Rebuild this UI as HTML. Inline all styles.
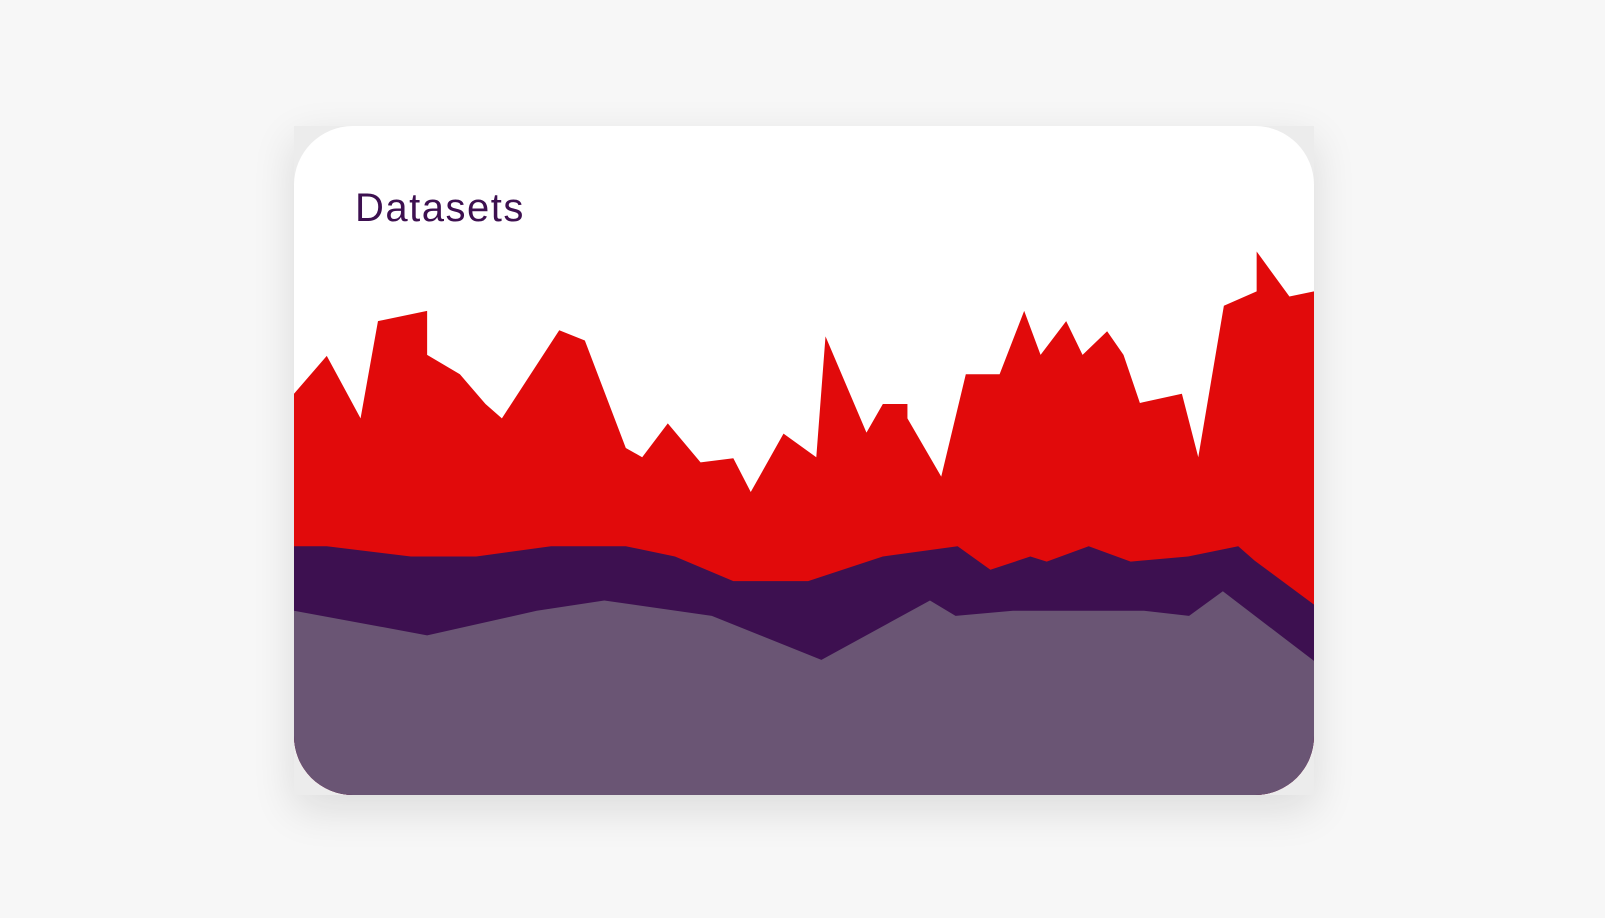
<!DOCTYPE html>
<html><head><meta charset="utf-8">
<style>
html,body{margin:0;padding:0;background:#f7f7f7;width:1605px;height:918px;overflow:hidden}
svg{display:block}
</style></head>
<body>
<svg id="chart" width="1605" height="918" viewBox="0 0 1605 918" xmlns="http://www.w3.org/2000/svg">
<defs>
<filter id="sh" x="-20%" y="-20%" width="140%" height="150%">
<feGaussianBlur in="SourceAlpha" stdDeviation="22"/>
<feOffset dy="14"/>
<feComponentTransfer><feFuncA type="linear" slope="0.12"/></feComponentTransfer>
<feMerge><feMergeNode/><feMergeNode in="SourceGraphic"/></feMerge>
</filter>
<clipPath id="cardclip"><rect x="294" y="126" width="1020" height="669" rx="59"/></clipPath>
</defs>
<rect x="294" y="126" width="1020" height="669" fill="#ececec" filter="url(#sh)"/>
<rect x="294" y="126" width="1020" height="669" rx="59" fill="#ffffff"/>
<g id="areas" clip-path="url(#cardclip)"></g>
<text x="355" y="221" font-family="Liberation Sans, sans-serif" font-size="40" letter-spacing="1.5" fill="#3d1050">Datasets</text>
</svg>
<script>
// x positions (time units 0..996), values (height units)
const redX = [0,32,65,82,130,130,162,187,203,259,284,300,324,340,365,397,429,446,478,510,519,559,575,599,599,632,656,689,713,729,754,770,794,810,826,867,883,908,940,940,972,996];
const redV = [392,429,368,463,473,430,411,382,368,454,444,402,339,330,363,325,329,296,353,330,448,354,382,382,368,311,411,411,473,430,463,430,453,430,383,392,330,478,492,531,487,492];
const purpleX = [0,32,114,178,251,324,372,429,502,575,648,680,719,735,776,817,873,922,938,996];
const purpleV = [243,243,233,233,243,243,233,209,209,233,243,220,233,228,243,228,233,243,229,186];
const grayX = [0,130,237,303,408,515,621,646,702,830,874,907,996];
const grayV = [180,156,180,190,175,132,190,175,180,180,175,199,131];

const X0 = 294, X1 = 1314, BASE = 795, K = 1.0236;
function xScale(t){ return X0 + t / 996 * (X1 - X0); }
function yScale(v){ return BASE - v * K; }

const g = document.getElementById('areas');
function area(xs, vs, color, name){
  let d = 'M' + xScale(xs[0]) + ',' + (BASE + 5);
  for (let i = 0; i < xs.length; i++) d += ' L' + xScale(xs[i]) + ',' + yScale(vs[i]);
  d += ' L' + xScale(xs[xs.length-1]) + ',' + (BASE + 5) + ' Z';
  const p = document.createElementNS('http://www.w3.org/2000/svg', 'path');
  p.setAttribute('d', d);
  p.setAttribute('fill', color);
  
  
  g.appendChild(p);
}
area(redX, redV, '#e10a0b', 'area-series-red');
area(purpleX, purpleV, '#3d1050', 'area-series-purple');
area(grayX, grayV, '#6a5574', 'area-series-gray');
</script>
</body></html>
